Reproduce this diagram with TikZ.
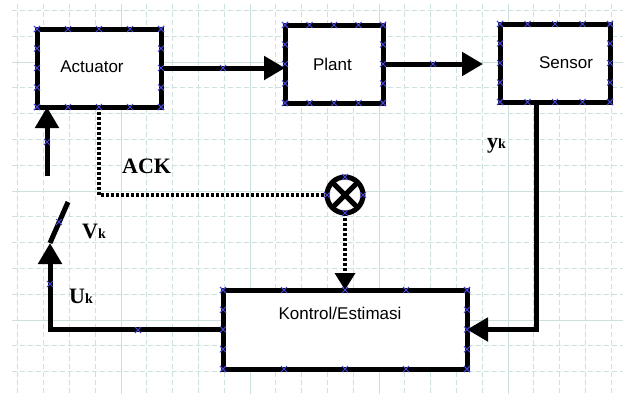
\documentclass[tikz,border=0pt]{standalone}
\usepackage{fontspec}
\setmainfont{Liberation Serif}
\setsansfont{Liberation Sans}
\usetikzlibrary{arrows.meta,calc}

\definecolor{gridcol}{RGB}{205,224,224}
\definecolor{kroscol}{RGB}{70,70,220}

\tikzset{
  blok/.style={draw,line width=5pt,rectangle,inner sep=0pt,outer sep=0pt,fill=white},
  boxtxt/.style={font=\sffamily\fontsize{17}{17}\selectfont,inner sep=0pt},
  conn/.style={line width=5pt},
  ackline/.style={line width=3.5pt,dash pattern=on 3pt off 2pt},
  lbl/.style={font=\bfseries\fontsize{22}{22}\selectfont,anchor=base west,inner sep=0pt},
  kros/.style={kroscol,line width=0.8pt},
  gridline/.style={gridcol,line width=1pt}
}
\newcommand\kros[1]{\draw[kros] #1 ++(-3,-3) -- ++(6,6) ++(-6,0) -- ++(6,-6);}
\newcommand\sub[1]{{\fontsize{14}{14}\selectfont #1}}

\begin{document}
\begin{tikzpicture}[x=1pt,y=-1pt,>={Triangle[length=21pt,width=23pt]}]
    \useasboundingbox [fill=white] (0,0) rectangle (623,394);

    % grid
    \foreach \i in {0,...,23}
        \draw [gridline,dash pattern=on 5pt off 3pt] (17.8+25.8*\i,4) -- (17.8+25.8*\i,394);
    \foreach \j in {0,...,14}
        \draw [gridline,dash pattern=on 5pt off 3pt] (12,10.4+25.8*\j) -- (623,10.4+25.8*\j);
    \foreach \gx in {121,250,379,508}
        \draw [gridline] (\gx,4) -- (\gx,394);
    \foreach \gy in {62,191,320}
        \draw [gridline] (12,\gy) -- (623,\gy);

    % blocks
    \node [blok,minimum width=124pt,minimum height=78pt,
           label={[boxtxt,xshift=-7pt,yshift=1pt]center:Actuator}] (act) at (99,68) {};
    \node [blok,minimum width=98pt,minimum height=78pt,
           label={[boxtxt,xshift=-1.5pt]center:Plant}] (plant) at (334,64) {};
    \node [blok,minimum width=110pt,minimum height=78pt,
           label={[boxtxt,xshift=11pt]center:Sensor}] (sensor) at (555,63) {};
    \node [blok,minimum width=244pt,minimum height=79pt,
           label={[boxtxt,xshift=-5pt,yshift=16pt]center:Kontrol/Estimasi}] (kontrol) at (345,329.5) {};
    \node [draw,circle,fill=white,line width=5pt,minimum size=36pt,inner sep=0pt,outer sep=0pt] (mix) at (345,195) {};
    \draw [conn] (mix.north west) -- (mix.south east) (mix.north east) -- (mix.south west);

    \coordinate (upbot) at (47,176);
    \coordinate (swlo) at (50,243);
    \coordinate (swhi) at (68,202);

    % connectors
    \draw [conn,->] (act.east) -- (act.east -| plant.west);
    \draw [conn,->,shorten >=17pt] (plant.east) -- (plant.east -| sensor.west);
    \draw [conn,->] ([xshift=-19pt]sensor.south) |- (kontrol.east);
    \draw [conn,->] (kontrol.west) -| (swlo);
    \draw [conn] (swlo) -- (swhi);
    \draw [conn,->] (upbot) -- (upbot |- act.south);
    \draw [ackline] (act.south) |- (mix.west);
    \draw [ackline,-{Triangle[length=17pt,width=20pt]}] (mix.south) -- (kontrol.north);

    % labels
    \node [lbl] (ack) at (122,173) {ACK};
    \node [lbl] (vk) at (82,238) {V\sub{k}};
    \node [lbl] (uk) at (69,303) {U\sub{k}};
    \node [lbl] (yk) at (487,148) {y\sub{k}};

    % connection points
    \foreach \b in {act,plant,sensor,kontrol}{
        \foreach \f in {0,0.25,0.5,0.75,1}{
            \kros{($(\b.north west)!\f!(\b.north east)$)}
            \kros{($(\b.south west)!\f!(\b.south east)$)}
            \kros{($(\b.north west)!\f!(\b.south west)$)}
            \kros{($(\b.north east)!\f!(\b.south east)$)}
        }
    }
    \foreach \a in {north,south,east,west}{
        \kros{(mix.\a)}
    }
    \foreach \px/\py in {223/68,433/64,47/142,59/222,50/284,138/330}{
        \kros{(\px,\py)}
    }
\end{tikzpicture}
\end{document}
